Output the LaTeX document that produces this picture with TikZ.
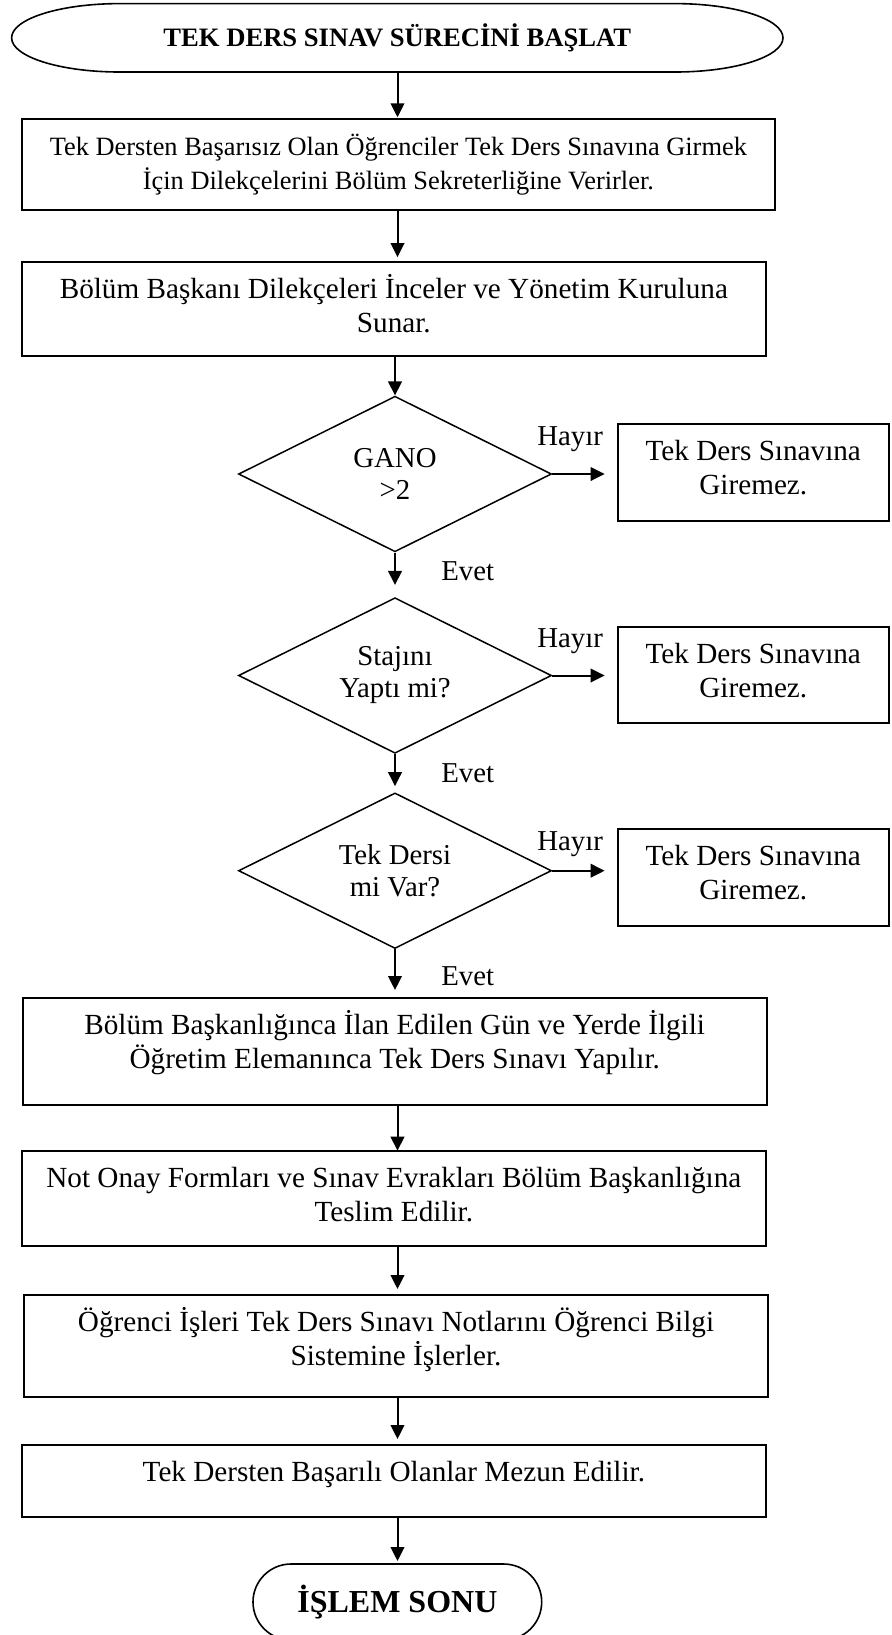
\documentclass[tikz,border=0pt]{standalone}
\usepackage{fontspec}
\setmainfont{Liberation Serif}
\usetikzlibrary{shapes.geometric,arrows.meta}

% top-aligned, centred text block of fixed size for the process boxes
\newcommand{\flowtxt}[3]{\parbox[c][#2][t]{#1}{\centering\vspace*{4.25pt}\rule{0pt}{14pt}#3\par}}

\begin{document}
\begin{tikzpicture}[x=0.5pt, y=-0.5pt,
  every node/.style={font=\fontsize{14.6pt}{16.9pt}\selectfont},
  procbox/.style={draw, line width=1pt, inner sep=0pt, outer sep=0pt},
  decision/.style={diamond, draw, line width=0.75pt, inner sep=0pt, aspect=2,
    minimum width=156.5pt, minimum height=77.8pt, align=center,
    font=\fontsize{14.4pt}{16pt}\selectfont},
  terminal/.style={inner sep=0pt, outer sep=0pt},
  termline/.style={line width=0.8pt},
  flow/.style={line width=1pt, -{Triangle[length=7pt,width=6.8pt]}},
  lbl/.style={inner sep=0pt, anchor=base west, font=\fontsize{14.4pt}{16pt}\selectfont}]

\useasboundingbox (0,0) rectangle (891,1635);
\fill[white] (0,0) rectangle (891,1635);

\coordinate (col) at (397.5,0);

% start terminal
\node[terminal, minimum width=385.7pt, minimum height=34.2pt,
      font=\fontsize{13.3pt}{15pt}\selectfont\bfseries] (start) at (397.3,37.8)
      {TEK DERS SINAV SÜRECİNİ BAŞLAT};
\draw[termline] ([xshift=54pt]start.north west) -- ([xshift=-54pt]start.north east)
  arc[start angle=90, end angle=-90, x radius=54pt, y radius=17.1pt]
  -- ([xshift=54pt]start.south west)
  arc[start angle=270, end angle=90, x radius=54pt, y radius=17.1pt] -- cycle;

% process boxes
\node[procbox, font=\fontsize{13.2pt}{16.9pt}\selectfont] (box1) at (398.35,164.65) {\flowtxt{376.65pt}{45.35pt}{Tek Dersten Başarısız Olan Öğrenciler Tek Ders Sınavına Girmek\\İçin Dilekçelerini Bölüm Sekreterliğine Verirler.}};
\node[procbox] (box2) at (393.85,308.85) {\flowtxt{372.15pt}{47.15pt}{Bölüm Başkanı Dilekçeleri İnceler ve Yönetim Kuruluna\\Sunar.}};

% decisions
\node[decision] (d1) at (395,474) {GANO\\>2};
\node[decision] (d2) at (395,675.5) {Stajını\\Yaptı mi?};
\node[decision] (d3) at (395,870.7) {Tek Dersi\\mi Var?};

% rejection boxes
\node[procbox] (no1) at (753.3,472.5) {\flowtxt{135.7pt}{48.5pt}{Tek Ders Sınavına\\Giremez.}};
\node[procbox] (no2) at (753.3,675) {\flowtxt{135.7pt}{48pt}{Tek Ders Sınavına\\Giremez.}};
\node[procbox] (no3) at (753.3,877.5) {\flowtxt{135.7pt}{48.5pt}{Tek Ders Sınavına\\Giremez.}};

\node[procbox] (box3) at (394.7,1051.5) {\flowtxt{372pt}{53.5pt}{Bölüm Başkanlığınca İlan Edilen Gün ve Yerde İlgili\\Öğretim Elemanınca Tek Ders Sınavı Yapılır.}};
\node[procbox] (box4) at (393.85,1198.2) {\flowtxt{372.15pt}{47.5pt}{Not Onay Formları ve Sınav Evrakları Bölüm Başkanlığına\\Teslim Edilir.}};
\node[procbox] (box5) at (396,1345.85) {\flowtxt{372pt}{50.85pt}{Öğrenci İşleri Tek Ders Sınavı Notlarını Öğrenci Bilgi\\Sistemine İşlerler.}};
\node[procbox] (box6) at (393.85,1481) {\flowtxt{372.15pt}{36pt}{Tek Dersten Başarılı Olanlar Mezun Edilir.}};

% end terminal
\node[terminal, minimum width=144.35pt, minimum height=38pt,
      font=\fontsize{16pt}{18pt}\selectfont\bfseries] (end) at (397.35,1602)
      {İŞLEM SONU};
\draw[termline] ([xshift=19pt]end.north west) -- ([xshift=-19pt]end.north east)
  arc[start angle=90, end angle=-90, radius=19pt]
  -- ([xshift=19pt]end.south west)
  arc[start angle=270, end angle=90, radius=19pt] -- cycle;

% branch labels
\node[lbl] (h1) at (537,445) {Hayır};
\node[lbl] (h2) at (537,647) {Hayır};
\node[lbl] (h3) at (537,850) {Hayır};
\node[lbl] (e1) at (441,580) {Evet};
\node[lbl] (e2) at (441,782) {Evet};
\node[lbl] (e3) at (441,985) {Evet};

% connectors
\draw[flow, shorten >=1pt] (start.south -| col) -- (box1.north -| col);
\draw[flow, shorten >=2.3pt] (box1.south -| col) -- (box2.north -| col);
\draw[flow] (box2.south -| d1.north) -- (d1.north);
\draw[flow, shorten >=6pt] (d1.south) -- (d2.north);
\draw[flow, shorten >=3pt] (d2.south) -- (d3.north);
\draw[flow, shorten >=4pt] (d3.south) -- (d3.south |- box3.north);
\draw[flow] (box3.south -| col) -- (box4.north -| col);
\draw[flow, shorten >=3pt] (box4.south -| col) -- (box5.north -| col);
\draw[flow, shorten >=3pt] (box5.south -| col) -- (box6.north -| col);
\draw[flow, shorten >=1.5pt] (box6.south -| col) -- (end.north -| col);

\draw[flow, shorten >=6.5pt] (d1.east) -- (d1.east -| no1.west);
\draw[flow, shorten >=6.5pt] (d2.east) -- (d2.east -| no2.west);
\draw[flow, shorten >=6.5pt] (d3.east) -- (d3.east -| no3.west);
\end{tikzpicture}
\end{document}
